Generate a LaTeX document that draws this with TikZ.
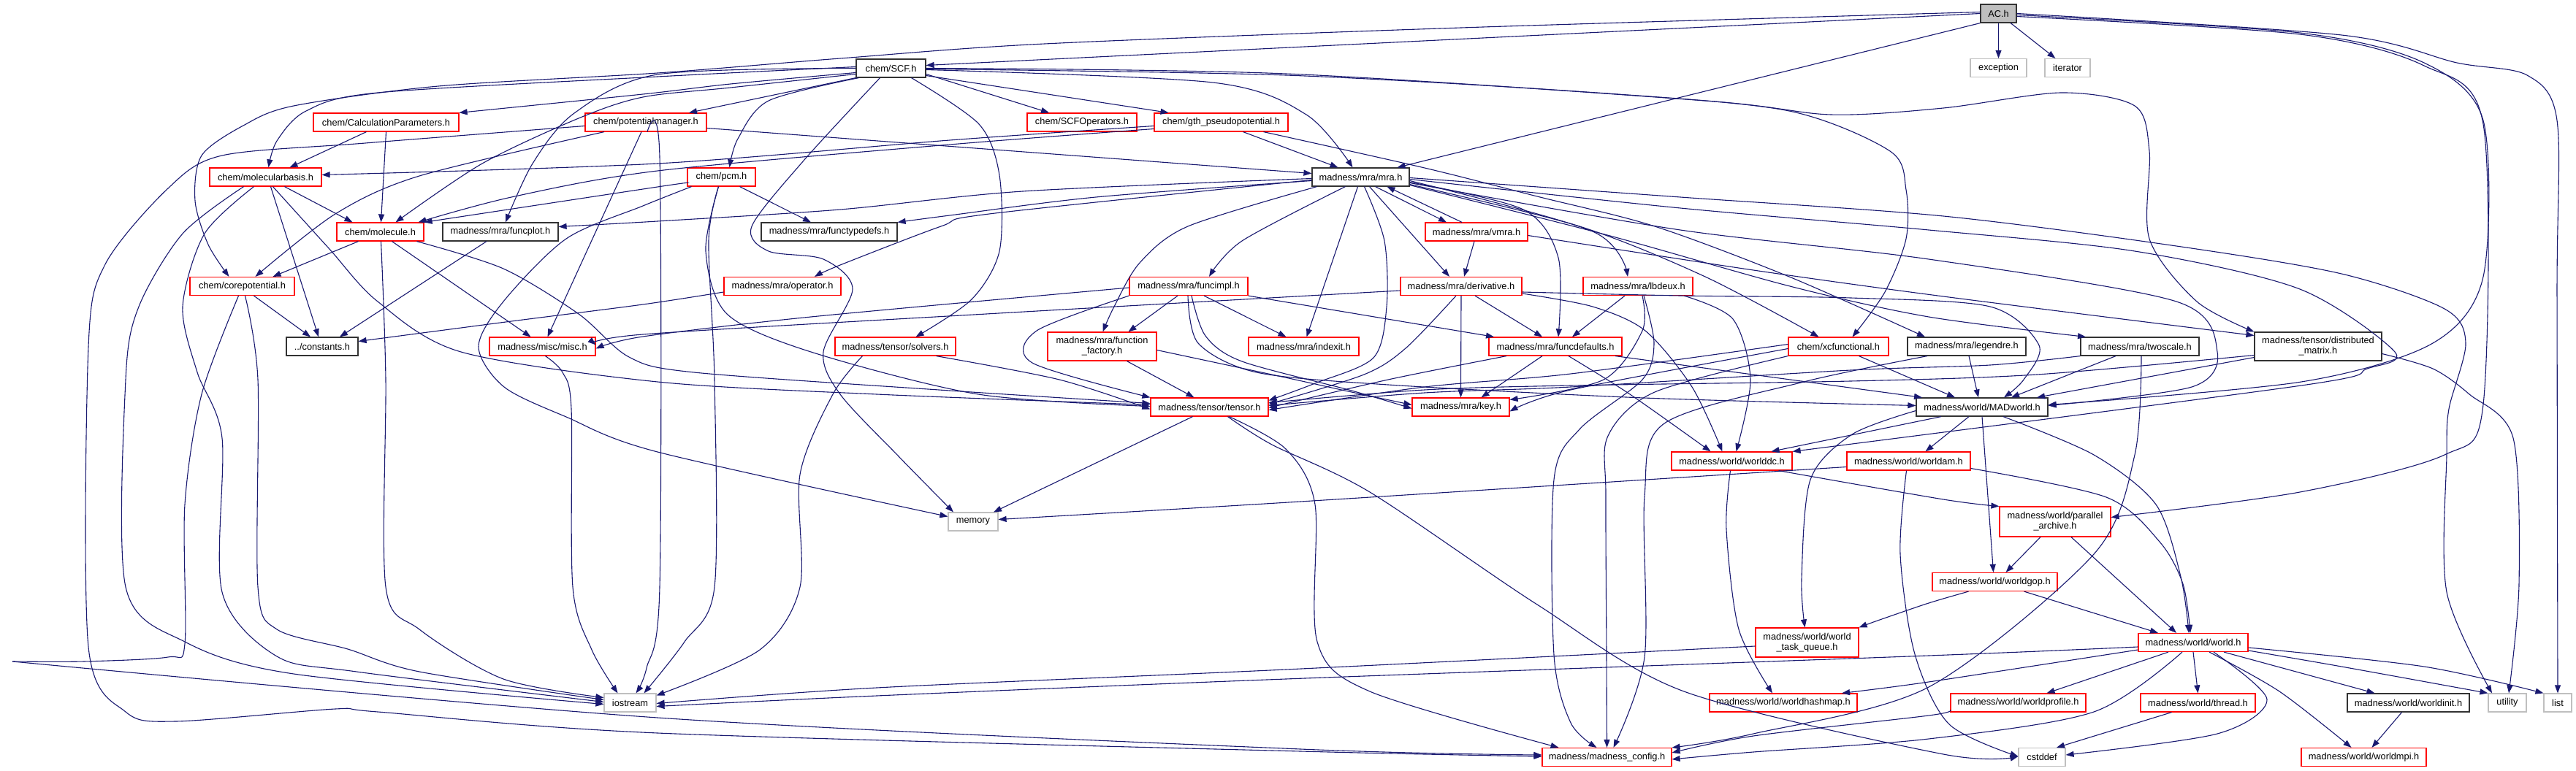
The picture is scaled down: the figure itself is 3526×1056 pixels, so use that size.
\documentclass[tikz,border=0pt]{standalone}
\usepackage{fontspec}
\setmainfont{Liberation Sans}
\usepackage{tikz}
\usetikzlibrary{arrows.meta}
\definecolor{edgeblue}{HTML}{191970}
\definecolor{sysgrey}{HTML}{BFBFBF}
\newcommand{\lbl}{\fontsize{12.8pt}{14pt}\selectfont}

\begin{document}
\begin{tikzpicture}[x=1pt, y=-1pt,
    hdr/.style={draw, rectangle, line width=1.2pt, inner sep=0pt, minimum height=25pt, align=center, font=\lbl},
    known/.style={hdr, draw=black!80},
    trunc/.style={hdr, draw=red},
    sys/.style={hdr, draw=sysgrey},
    inc/.style={draw=edgeblue, line width=1.1pt, -{Triangle[length=11pt,width=8pt]}},
    wire/.style={draw=edgeblue, line width=1.1pt}
]
\useasboundingbox (0,0) rectangle (3526,1056);

% Headers
\node[known, fill=sysgrey, minimum width=49pt] (ac) at (2735.5,18.5) {AC.h};
\node[known, minimum width=95pt] (scf) at (1219.5,93.5) {chem/SCF.h};
\node[sys, minimum width=77pt] (exc) at (2735.5,93) {exception};
\node[sys, minimum width=62pt] (iter) at (2830,93) {iterator};
\node[trunc, minimum width=199pt] (calc) at (528.5,167.5) {chem/CalculationParameters.h};
\node[trunc, minimum width=166pt] (potm) at (884,167.5) {chem/potentialmanager.h};
\node[trunc, minimum width=150pt] (scfop) at (1481,167.5) {chem/SCFOperators.h};
\node[trunc, minimum width=183pt] (gth) at (1671.5,167.5) {chem/gth\_pseudopotential.h};
\node[trunc, minimum width=153pt] (molb) at (363.5,242.5) {chem/molecularbasis.h};
\node[trunc, minimum width=93pt] (pcm) at (987.5,242.5) {chem/pcm.h};
\node[known, minimum width=133pt] (mra) at (1862.5,242.5) {madness/mra/mra.h};
\node[trunc, minimum width=119pt] (mol) at (520.5,317.5) {chem/molecule.h};
\node[known, minimum width=158pt] (fplot) at (685,317.5) {madness/mra/funcplot.h};
\node[known, minimum width=186pt] (ftyp) at (1135,317.5) {madness/mra/functypedefs.h};
\node[trunc, minimum width=140pt] (vmra) at (2021,317.5) {madness/mra/vmra.h};
\node[trunc, minimum width=143pt] (corep) at (331.5,392) {chem/corepotential.h};
\node[trunc, minimum width=160pt] (oper) at (1071,392) {madness/mra/operator.h};
\node[trunc, minimum width=162pt] (fimpl) at (1627,392) {madness/mra/funcimpl.h};
\node[trunc, minimum width=166pt] (deriv) at (2000,392) {madness/mra/derivative.h};
\node[trunc, minimum width=150pt] (lbd) at (2242,392) {madness/mra/lbdeux.h};
\node[known, minimum width=98pt] (const) at (441,474.5) {../constants.h};
\node[trunc, minimum width=145pt] (misc) at (742.5,474.5) {madness/misc/misc.h};
\node[trunc, minimum width=165pt] (solv) at (1225.5,474.5) {madness/tensor/solvers.h};
\node[trunc, minimum width=149pt, minimum height=39pt] (ffac) at (1508.5,474.5) {madness/mra/function\\\_factory.h};
\node[trunc, minimum width=151pt] (idx) at (1784.5,474.5) {madness/mra/indexit.h};
\node[trunc, minimum width=182pt] (fdef) at (2129,474.5) {madness/mra/funcdefaults.h};
\node[trunc, minimum width=137pt] (xcf) at (2516.5,474.5) {chem/xcfunctional.h};
\node[known, minimum width=162pt] (leg) at (2692,474.5) {madness/mra/legendre.h};
\node[known, minimum width=162pt] (twos) at (2929,474.5) {madness/mra/twoscale.h};
\node[known, minimum width=174pt, minimum height=39pt] (dmat) at (3173,474.5) {madness/tensor/distributed\\\_matrix.h};
\node[trunc, minimum width=161pt] (tens) at (1655.5,557.5) {madness/tensor/tensor.h};
\node[trunc, minimum width=133pt] (key) at (1999.5,557.5) {madness/mra/key.h};
\node[known, minimum width=180pt] (madw) at (2713,557.5) {madness/world/MADworld.h};
\node[trunc, minimum width=165pt] (wdc) at (2370.5,631.5) {madness/world/worlddc.h};
\node[trunc, minimum width=169pt] (wam) at (2612.5,631.5) {madness/world/worldam.h};
\node[sys, minimum width=68pt] (mem) at (1332,714.5) {memory};
\node[trunc, minimum width=152pt, minimum height=41pt] (par) at (2813,714.5) {madness/world/parallel\\\_archive.h};
\node[trunc, minimum width=171pt] (wgop) at (2730.5,797) {madness/world/worldgop.h};
\node[trunc, minimum width=141pt, minimum height=40pt] (wtq) at (2473.5,880) {madness/world/world\\\_task\_queue.h};
\node[trunc, minimum width=150pt] (wld) at (3002,880) {madness/world/world.h};
\node[sys, minimum width=71pt] (ios) at (862.5,962.5) {iostream};
\node[trunc, minimum width=202pt] (whm) at (2441,962.5) {madness/world/worldhashmap.h};
\node[trunc, minimum width=185pt] (wprof) at (2762.5,962.5) {madness/world/worldprofile.h};
\node[trunc, minimum width=157pt] (thr) at (3008.5,962.5) {madness/world/thread.h};
\node[known, minimum width=167pt] (winit) at (3296.5,962.5) {madness/world/worldinit.h};
\node[sys, minimum width=52pt] (util) at (3432,962.5) {utility};
\node[sys, minimum width=38pt] (lst) at (3501,962.5) {list};
\node[trunc, minimum width=177pt] (cfg) at (2199.5,1037) {madness/madness\_config.h};
\node[sys, minimum width=64pt] (cstd) at (2795,1037) {cstddef};
\node[trunc, minimum width=171pt] (wmpi) at (3235.5,1037) {madness/world/worldmpi.h};
\coordinate (kink) at (17,906);

% AC.h
\draw[inc] (ac.west) -- ([yshift=4pt]scf.east);
\draw[inc] (ac) -- (exc);
\draw[inc] (ac) -- (iter);
\draw[inc] (ac.south west) -- ([xshift=50pt]mra.north);
\draw[inc] plot[smooth] coordinates {([yshift=2pt]ac.west) (2000,38) (1430,60) (1150,80) (900,100) (600,118) (402,145) (333,172) (276,213) (267,275) (285,335) ([xshift=-18pt]corep.north)};
\draw[inc] plot[smooth] coordinates {(ac.east) (3205,48) (3363,86) (3459,103) (3500,165) (3500,400) (lst.north)};
\draw[inc] plot[smooth] coordinates {([yshift=-2pt]ac.east) (3148,45) (3318,86) (3399,165) (3399,379) (3330,470) (3150,523) ([yshift=3pt]madw.east)};
\draw[inc] plot[smooth] coordinates {([yshift=-4pt]ac.east) (3148,47) (3318,90) (3399,170) (3399,554) (3346,623) (3148,674) ([yshift=6pt]par.east)};

% chem/SCF.h
\draw[inc] plot[smooth] coordinates {([yshift=-6pt]scf.west) (1000,115) (880,129) (calc.north east)};
\draw[inc] (scf.south west) -- ([xshift=59pt]potm.north);
\draw[inc] plot[smooth] coordinates {([yshift=2pt]scf.west) (900,105) (517,127) (419,152) (379,193) ([xshift=4pt]molb.north)};
\draw[inc] plot[smooth] coordinates {([yshift=-8pt]scf.west) (1000,120) (880,133) (792,162) (660,224) ([xshift=21pt]mol.north)};
\draw[inc] plot[smooth] coordinates {(scf.west) (900,102) (786,155) (729,224) ([xshift=7pt]fplot.north)};
\draw[inc] plot[smooth] coordinates {([xshift=-44pt]scf.south) (1052,138) (1010,190) ([xshift=11pt]pcm.north)};
\draw[inc] plot[smooth] coordinates {([xshift=-15pt]scf.south) (1100,220) (1029,310) (1052,344) (1127,355) (1167,396) (1127,482) (1150,540) (1230,625) ([xshift=-27pt]mem.north)};
\draw[inc] plot[smooth] coordinates {([xshift=28pt]scf.south) (1340,170) (1368,240) (1368,344) (1330,410) ([xshift=28pt]solv.north)};
\draw[inc] ([yshift=-8pt]scf.east) -- ([xshift=-45pt]scfop.north);
\draw[inc] ([yshift=-10pt]scf.east) -- ([xshift=-72pt]gth.north);
\draw[inc] plot[smooth] coordinates {([yshift=-2pt]scf.east) (1660,113) (1788,157) ([xshift=-11pt]mra.north)};
\draw[inc] plot[smooth] coordinates {([yshift=-1pt]scf.east) (1760,103) (2200,128) (2449,152) (2587,207) (2609,260) (2609,327) (2580,400) ([xshift=19pt]xcf.north)};
\draw[inc] plot[smooth] coordinates {(scf.east) (1760,101) (2334,138) (2506,157) (2660,148) (2821,127) (2922,145) (2942,207) (2942,327) (3007,413) (dmat.north west)};

% chem/potentialmanager.h
\draw[inc] ([yshift=-8pt]potm.east) -- ([yshift=5pt]mra.west);
\draw[inc] plot[smooth] coordinates {([xshift=-57pt]potm.south) (574,241) (459,293) ([xshift=18pt]corep.north)};
\draw[inc] ([xshift=-6pt]potm.south) -- ([xshift=7pt]misc.north);
\draw[inc] plot[smooth] coordinates {([xshift=2pt]potm.south) (903,215) (903,804) (885,915) ([xshift=8pt]ios.north)};
\draw[inc] plot[smooth] coordinates {([yshift=-5pt]potm.west) (500,196) (304,213) (230,258) (144,362) (121,475) (121,886) (172,975) (241,988) (459,971) (517,975) (900,1004) (1780,1029) ([yshift=1pt]cfg.west)};

% chem/CalculationParameters.h, chem/molecularbasis.h
\draw[inc] ([xshift=-27pt]calc.south) -- ([xshift=33pt]molb.north);
\draw[inc] (calc.south) -- ([xshift=1pt]mol.north);
\draw[inc] ([xshift=26pt]molb.south) -- ([xshift=-38pt]mol.north);
\draw[inc] ([xshift=7pt]molb.south) -- ([xshift=-5pt]const.north);
\draw[inc] plot[smooth] coordinates {([xshift=10pt]molb.south) (450,340) (517,413) (631,482) (900,523) (1200,540) ([yshift=3pt]tens.west)};
\draw[inc] plot[smooth] coordinates {([xshift=-16pt]molb.south) (280,320) (250,420) (270,510) (304,600) (304,811) (379,899) (488,920) ([yshift=1pt]ios.west)};
\draw[inc] plot[smooth] coordinates {([xshift=-30pt]molb.south) (250,320) (190,420) (172,520) (172,804) (253,879) (402,923) ([yshift=-2pt]ios.west)};

% chem/corepotential.h, chem/molecule.h
\draw[inc] ([xshift=16pt]corep.south) -- ([xshift=-16pt]const.north);
\draw[inc] plot[smooth] coordinates {([xshift=4pt]corep.south) (353,520) (353,804) (379,862) (476,889) (574,920) ([yshift=4pt]ios.west)};
\draw[wire] plot[smooth] coordinates {([xshift=-5pt]corep.south) (276,540) (253,691) (253,882) (230,900) (115,906) (kink)};
\draw[inc] plot[smooth] coordinates {(kink) (900,983) (1780,1026) ([yshift=3pt]cfg.west)};
\draw[inc] ([xshift=-30pt]mol.south) -- ([xshift=42pt]corep.north);
\draw[inc] ([xshift=16pt]mol.south) -- ([xshift=-16pt]misc.north);
\draw[inc] plot[smooth] coordinates {([xshift=1pt]mol.south) (528,520) (528,804) (574,862) (689,930) ([yshift=7pt]ios.west)};
\draw[inc] plot[smooth] coordinates {([xshift=50pt]mol.south) (689,368) (792,430) (861,489) (950,510) (1300,535) ([yshift=5pt]tens.west)};
\draw[inc] ([xshift=-19pt]fplot.south) -- ([xshift=24pt]const.north);

% chem/pcm.h
\draw[inc] plot[smooth] coordinates {([yshift=-8pt]pcm.west) (900,256) (mol.north east)};
\draw[inc] ([xshift=25pt]pcm.south) -- ([xshift=-25pt]ftyp.north);
\draw[inc] plot[smooth] coordinates {([xshift=-41pt]pcm.south) (880,282) (775,327) (689,413) (655,475) (690,530) (775,571) (900,619) ([yshift=7pt]mem.west)};
\draw[inc] plot[smooth] coordinates {([xshift=-4pt]pcm.south) (970,330) (978,520) (978,804) (937,879) ([xshift=19pt]ios.north)};
\draw[inc] plot[smooth] coordinates {([xshift=-4pt]pcm.south) (966,344) (995,430) (1110,482) (1339,540) ([yshift=1pt]tens.west)};

% chem/gth_pseudopotential.h
\draw[inc] plot[smooth] coordinates {([yshift=-5pt]gth.west) (1300,192) (900,224) ([yshift=3pt]molb.east)};
\draw[inc] plot[smooth] coordinates {([yshift=-9pt]gth.west) (1300,198) (900,234) (700,270) ([xshift=-8pt]mol.north east)};
\draw[inc] ([xshift=30pt]gth.south) -- ([xshift=-31pt]mra.north);
\draw[inc] plot[smooth] coordinates {([xshift=58pt]gth.south) (1950,230) (2104,269) (2265,310) (2449,379) ([xshift=-57pt]leg.north)};

% madness/mra/mra.h
\draw[inc] plot[smooth] coordinates {([yshift=-2pt]mra.west) (1400,262) (1150,287) (900,303) ([yshift=7pt]fplot.east)};
\draw[inc] plot[smooth] coordinates {([yshift=-5pt]mra.west) (1500,270) (1300,295) (ftyp.north east)};
\draw[inc] plot[smooth] coordinates {([yshift=-4pt]mra.west) (1354,293) (1288,310) (1150,363) ([xshift=44pt]oper.north)};
\draw[inc] plot[smooth] coordinates {([xshift=-60pt]mra.south) (1626,310) (1560,360) (1525,420) ([xshift=1pt]ffac.north)};
\draw[inc] plot[smooth] coordinates {([xshift=-21pt]mra.south) (1700,330) ([xshift=28pt]fimpl.north)};
\draw[inc] ([xshift=-4pt]mra.south) -- ([xshift=4pt]idx.north);
\draw[inc] plot[smooth] coordinates {([xshift=5pt]mra.south) (1895,330) (1898,420) (1880,490) (1800,525) ([yshift=9pt]tens.east)};
\draw[inc] ([xshift=12pt]mra.south) -- ([xshift=-16pt]deriv.north);
\draw[inc] ([xshift=20pt]mra.south) -- ([xshift=-41pt]vmra.north);
\draw[inc] ([xshift=-20pt]vmra.north) -- ([xshift=36pt]mra.south);
\draw[inc] plot[smooth] coordinates {([yshift=-7pt]mra.east) (2085,287) (2133,353) ([xshift=4pt]fdef.north)};
\draw[inc] plot[smooth] coordinates {([yshift=-5pt]mra.east) (2180,317) ([xshift=-14pt]lbd.north)};
\draw[inc] plot[smooth] coordinates {([yshift=-10pt]mra.east) (2162,310) (2334,379) ([xshift=-27pt]xcf.north)};
\draw[inc] plot[smooth] coordinates {([yshift=-1pt]mra.east) (2300,270) (2660,296) (2979,337) (3205,375) (3346,423) (3375,470) (3352,560) (3349,623) (3349,811) ([xshift=-21pt]util.north)};
\draw[inc] plot[smooth] coordinates {([yshift=-3pt]mra.east) (2300,285) (2640,315) (2922,344) (3148,396) (3278,482) (3240,505) (3150,528) (wdc.north east)};
\draw[inc] plot[smooth] coordinates {([yshift=-8pt]mra.east) (2300,315) (2640,355) (2979,413) (3035,482) (3000,530) ([yshift=2pt]madw.east)};
\draw[inc] plot[smooth] coordinates {([yshift=-11pt]mra.east) (2200,322) (2450,392) (2640,434) ([xshift=-74pt]twos.north)};

% madness/mra/vmra.h, madness/mra/derivative.h
\draw[inc] ([xshift=-3pt]vmra.south) -- ([xshift=4pt]deriv.north);
\draw[inc] plot[smooth] coordinates {([yshift=-5pt]vmra.east) (2400,370) (2660,406) ([yshift=15pt]dmat.west)};
\draw[inc] plot[smooth] coordinates {([yshift=-6pt]deriv.west) (1350,430) (880,458) ([yshift=2pt]misc.east)};
\draw[inc] plot[smooth] coordinates {([xshift=-7pt]deriv.south) (1924,477) (1867,513) ([yshift=4pt]tens.east)};
\draw[inc] (deriv.south) -- (key.north);
\draw[inc] ([xshift=19pt]deriv.south) -- ([xshift=-18pt]fdef.north);
\draw[inc] plot[smooth] coordinates {([yshift=-8pt]deriv.east) (2300,405) (2533,408) (2724,420) (2791,473) (2770,520) ([xshift=30pt]madw.north)};
\draw[inc] plot[smooth] coordinates {([yshift=-10pt]deriv.east) (2180,420) (2252,453) (2316,530) ([xshift=-13pt]wdc.north)};

% madness/mra/lbdeux.h
\draw[inc] ([xshift=-18pt]lbd.south) -- ([xshift=23pt]fdef.north);
\draw[inc] plot[smooth] coordinates {([xshift=6pt]lbd.south) (2248,453) (2195,520) ([yshift=10pt]key.east)};
\draw[inc] plot[smooth] coordinates {([xshift=8pt]lbd.south) (2264,470) (2248,520) (2162,588) (2127,657) (2127,897) (2150,990) ([xshift=-14pt]cfg.north)};
\draw[inc] plot[smooth] coordinates {([xshift=63pt]lbd.south) (2372,437) (2396,520) ([xshift=6pt]wdc.north)};

% madness/mra/funcimpl.h, function_factory.h
\draw[inc] plot[smooth] coordinates {([yshift=-2pt]fimpl.west) (1110,434) (880,461) ([yshift=-3pt]misc.east)};
\draw[inc] ([xshift=-15pt]fimpl.south) -- ([xshift=36pt]ffac.north);
\draw[inc] ([xshift=21pt]fimpl.south) -- ([xshift=-24pt]idx.north);
\draw[inc] (fimpl.south east) -- ([xshift=-84pt]fdef.north);
\draw[inc] plot[smooth] coordinates {([xshift=4pt]fimpl.south) (1650,460) (1700,495) (1850,535) ([yshift=-2pt]key.west)};
\draw[inc] plot[smooth] coordinates {([xshift=-1pt]fimpl.south) (1640,470) (1720,510) (1900,527) (2250,545) ([yshift=2pt]madw.west)};
\draw[inc] plot[smooth] coordinates {(fimpl.south west) (1419,453) (1413,497) (tens.north west)};
\draw[inc] ([xshift=34pt]ffac.south) -- ([xshift=-21pt]tens.north);
\draw[inc] plot[smooth] coordinates {([yshift=-5pt]ffac.east) (1750,515) (1850,537) ([yshift=3pt]key.west)};

% operator.h, solvers.h
\draw[inc] plot[smooth] coordinates {([yshift=-8pt]oper.west) (880,417) (700,440) ([yshift=7pt]const.east)};
\draw[inc] plot[smooth] coordinates {([xshift=56pt]solv.south) (1450,520) ([yshift=-3pt]tens.west)};
\draw[inc] plot[smooth] coordinates {([xshift=-45pt]solv.south) (1140,540) (1095,650) (1095,804) (1040,890) ([yshift=10pt]ios.east)};

% funcdefaults.h, xcfunctional.h, legendre.h, twoscale.h, distributed_matrix.h
\draw[inc] plot[smooth] coordinates {([xshift=-67pt]fdef.south) (1900,520) ([yshift=-1pt]tens.east)};
\draw[inc] ([xshift=-18pt]fdef.south) -- ([xshift=28pt]key.north);
\draw[inc] plot[smooth] coordinates {([xshift=18pt]fdef.south) (2231,540) ([xshift=-29pt]wdc.north)};
\draw[inc] ([xshift=82pt]fdef.south) -- ([xshift=-82pt]madw.north);
\draw[inc] ([xshift=28pt]xcf.south) -- ([xshift=-37pt]madw.north);
\draw[inc] plot[smooth] coordinates {([yshift=3pt]xcf.west) (2150,512) (1950,530) ([yshift=-4pt]tens.east)};
\draw[inc] plot[smooth] coordinates {([yshift=-3pt]xcf.west) (2150,534) ([yshift=-6pt]key.east)};
\draw[inc] plot[smooth] coordinates {(xcf.south west) (2265,537) (2201,597) (2198,680) (2199,900) (cfg.north)};
\draw[inc] ([xshift=3pt]leg.south) -- ([xshift=-5pt]madw.north);
\draw[inc] plot[smooth] coordinates {([xshift=-54pt]leg.south) (2469,523) (2278,580) (2251,680) (2251,900) ([xshift=9pt]cfg.north)};
\draw[inc] ([xshift=-33pt]twos.south) -- ([xshift=40pt]madw.north);
\draw[inc] plot[smooth] coordinates {(twos.south west) (2724,500) (2533,507) (2150,530) (1950,538) ([yshift=2pt]tens.east)};
\draw[inc] plot[smooth] coordinates {([xshift=2pt]twos.south) (2922,623) (2866,759) (2640,941) (2400,1005) (cfg.north east)};
\draw[inc] ([yshift=-15pt]dmat.west) -- ([xshift=75pt]madw.north);
\draw[inc] plot[smooth] coordinates {([yshift=-12pt]dmat.west) (2788,513) (2533,522) (2150,528) (1950,534) ([yshift=6pt]tens.east)};
\draw[inc] plot[smooth] coordinates {([yshift=-10pt]dmat.east) (3330,505) (3380,540) (3440,600) (3448,800) ([xshift=2pt]util.north)};

% madness/tensor/tensor.h
\draw[inc] ([xshift=-23pt]tens.south) -- ([xshift=28pt]mem.north);
\draw[inc] plot[smooth] coordinates {([xshift=25pt]tens.south) (1741,609) (1875,674) (2104,828) (2305,947) (2660,1033) ([yshift=1pt]cstd.west)};
\draw[inc] plot[smooth] coordinates {([xshift=27pt]tens.south) (1760,615) (1800,691) (1803,879) (1875,947) ([xshift=-66pt]cfg.north)};

% madness/world
\draw[inc] ([xshift=-56pt]madw.south) -- ([xshift=54pt]wdc.north);
\draw[inc] ([xshift=-18pt]madw.south) -- ([xshift=23pt]wam.north);
\draw[inc] (madw.south) -- ([xshift=-2pt]wgop.north);
\draw[inc] plot[smooth] coordinates {([xshift=29pt]madw.south) (2866,623) (2951,691) (2985,790) ([xshift=-6pt]wld.north)};
\draw[inc] plot[smooth] coordinates {([yshift=-5pt]madw.west) (2535,595) (2478,657) (2466,793) ([xshift=-3pt]wtq.north)};
\draw[inc] plot[smooth] coordinates {([xshift=64pt]wdc.south) (2660,684) (par.north west)};
\draw[inc] plot[smooth] coordinates {([xshift=-2pt]wdc.south) (2363,725) (2380,862) ([xshift=-15pt]whm.north)};
\draw[inc] plot[smooth] coordinates {([yshift=-8pt]wam.west) (1780,687) ([yshift=3pt]mem.east)};
\draw[inc] plot[smooth] coordinates {([yshift=-10pt]wam.east) (2883,681) (2956,742) (2988,800) ([xshift=-4pt]wld.north)};
\draw[inc] plot[smooth] coordinates {([xshift=-3pt]wam.south) (2601,759) (2621,896) (2668,992) ([yshift=1pt]cstd.west)};
\draw[inc] ([xshift=-20pt]par.south) -- ([xshift=15pt]wgop.north);
\draw[inc] ([xshift=22pt]par.south) -- ([xshift=-23pt]wld.north);
\draw[inc] ([xshift=40pt]wgop.south) -- ([xshift=-48pt]wld.north);
\draw[inc] plot[smooth] coordinates {([xshift=-36pt]wgop.south) (2640,826) (2570,850) (wtq.north east)};
\draw[inc] plot[smooth] coordinates {([yshift=-5pt]wtq.west) (1760,917) (1200,942) ([yshift=-1pt]ios.east)};
\draw[inc] plot[smooth] coordinates {([yshift=-6pt]wld.west) (2640,898) (1760,930) (1200,953) ([yshift=-5pt]ios.east)};
\draw[inc] plot[smooth] coordinates {([yshift=-10pt]wld.west) (2640,934) ([xshift=80pt]whm.north)};
\draw[inc] plot[smooth] coordinates {([xshift=-15pt]wld.south) (2866,975) (2640,1012) (2400,1030) ([yshift=-3pt]cfg.east)};
\draw[inc] ([xshift=-34pt]wld.south) -- ([xshift=39pt]wprof.north);
\draw[inc] (wld.south) -- (thr.north);
\draw[inc] ([xshift=42pt]wld.south) -- ([xshift=-46pt]winit.north);
\draw[inc] plot[smooth] coordinates {([yshift=-11pt]wld.east) (3205,913) (util.north west)};
\draw[inc] plot[smooth] coordinates {([yshift=-7pt]wld.east) (3318,913) (lst.north west)};
\draw[inc] plot[smooth] coordinates {([xshift=22pt]wld.south) (3120,947) ([xshift=-17pt]wmpi.north)};
\draw[inc] plot[smooth] coordinates {([xshift=28pt]wld.south) (3103,958) (3035,1005) ([yshift=3pt]cstd.east)};
\draw[inc] plot[smooth] coordinates {([yshift=-10pt]wprof.west) (2640,980) (2400,1008) ([yshift=6pt]cfg.east)};
\draw[inc] ([xshift=-36pt]thr.south) -- ([xshift=20pt]cstd.north);
\draw[inc] ([xshift=-9pt]winit.south) -- ([xshift=11pt]wmpi.north);

% madness/misc/misc.h
\draw[inc] plot[smooth] coordinates {([xshift=4pt]misc.south) (770,510) (782,560) (784,804) (810,890) ([xshift=-17pt]ios.north)};

\end{tikzpicture}
\end{document}
